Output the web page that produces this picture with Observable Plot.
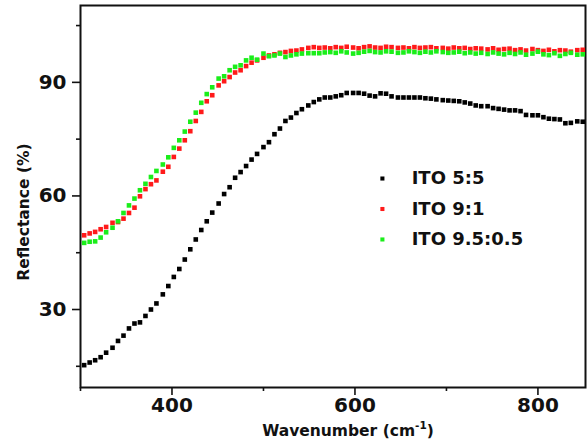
<!DOCTYPE html>
<html>
<head>
<meta charset="utf-8">
<script src="https://cdn.jsdelivr.net/npm/d3@7"></script>
<script src="https://cdn.jsdelivr.net/npm/@observablehq/plot@0.6"></script>
<style>
  html, body { margin: 0; padding: 0; background: #fff; }
  #chart { width: 587px; height: 448px; }
</style>
</head>
<body>
<div id="chart"></div>
<script>
// Wavenumber (cm-1) sampling points
const wavenumber = [304,310,316,322,328,335,341,347,353,359,
  365,371,377,383,390,396,402,408,414,420,
  426,432,438,444,451,457,463,469,475,481,
  487,493,500,506,512,518,524,530,536,542,
  549,555,561,567,573,579,585,591,598,604,
  610,616,622,628,634,640,647,653,659,665,
  671,677,683,689,696,702,708,714,720,726,
  732,738,745,751,757,763,769,775,781,787,
  794,800,806,812,818,824,830,836,843,849];

// Reflectance (%) — ITO 5:5
const ito55 = [15.3,16.0,16.6,17.4,18.6,19.9,21.7,23.1,25.0,26.3,
  26.6,28.3,30.0,31.6,34.0,36.2,38.6,40.7,43.2,45.9,
  48.5,51.0,53.3,55.6,58.0,60.5,62.3,64.8,66.3,67.9,
  69.6,71.1,72.9,74.2,76.3,77.8,79.8,80.7,81.9,82.9,
  83.9,84.8,85.5,86.0,86.0,86.3,86.6,87.2,87.2,87.2,
  87.0,86.5,86.3,87.1,87.0,86.3,86.0,86.0,86.0,86.0,
  86.0,85.8,85.7,85.5,85.3,85.2,85.1,85.0,84.7,84.4,
  83.9,83.7,83.7,83.2,83.0,82.8,82.6,82.6,82.4,81.4,
  81.3,81.3,80.8,80.4,80.3,80.2,79.2,79.3,79.7,79.6];

// Reflectance (%) — ITO 9:1
const ito91 = [49.6,50.1,50.5,51.2,51.8,52.9,53.1,54.0,55.5,56.9,
  59.9,61.8,63.1,64.1,66.4,67.7,70.3,72.5,74.7,77.1,
  79.8,82.2,85.0,86.6,89.2,
  90.3,91.4,92.6,93.2,94.3,95.2,95.8,96.5,97.1,97.4,97.8,98.0,98.3,98.4,98.7,99.1,99.3,99.1,
  99.2,99.0,99.3,99.1,99.4,99.2,99.0,99.3,99.5,99.2,
  99.1,99.4,99.3,99.1,99.2,99.0,99.3,99.1,99.2,99.3,
  99.0,99.1,98.9,99.2,99.0,99.1,98.8,99.0,98.9,98.7,
  99.0,98.6,98.8,98.9,98.5,98.7,98.4,98.8,98.5,98.3,
  98.6,98.2,98.5,98.4,98.1,98.5,98.6];

// Reflectance (%) — ITO 9.5:0.5
const ito955 = [47.6,47.9,48.0,49.0,50.4,51.6,53.3,55.5,57.5,59.3,
  61.5,63.2,65.0,66.6,68.3,70.2,72.7,74.7,77.0,79.6,
  82.0,84.6,86.9,88.7,91.0,
  91.6,93.2,94.1,94.5,95.8,96.5,96.0,97.6,96.9,97.1,97.6,96.7,97.1,97.4,97.6,97.7,97.7,97.7,97.9,
  98.0,97.8,98.2,97.9,97.6,97.8,98.1,98.3,98.0,97.9,
  98.2,98.1,97.8,97.9,98.2,98.0,97.8,98.1,97.9,98.2,
  98.0,97.8,97.9,98.1,97.7,97.9,97.6,97.8,97.5,97.9,
  97.6,97.4,97.8,97.5,97.9,97.3,97.6,98.1,97.4,97.2,
  97.7,97.0,97.5,97.8,97.3,97.4];

const seriesNames = ["ITO 5:5", "ITO 9:1", "ITO 9.5:0.5"];
const seriesColors = ["#000000", "#ff1a1a", "#1aee1a"];

const xMajorTicks = [400, 600, 800];
const xMinorTicks = [300, 500, 700];
const yMajorTicks = [30, 60, 90];
const yMinorTicks = [15, 45, 75, 105];

const allSeries = [ito55, ito91, ito955];
const rows = [];
allSeries.forEach((vals, s) => {
  vals.forEach((v, i) => rows.push({x: wavenumber[i], y: v, s: seriesNames[s]}));
});

// legend placement in data units
const legendX = 630, legendTextX = 662, legendY0 = 64.6, legendStep = 8.05;
const legendRows = seriesNames.map((n, i) => ({n, x: legendX, tx: legendTextX, y: legendY0 - legendStep * i}));

const FONT = "DejaVu Sans";

const svg = Plot.plot({
  width: 587,
  height: 448,
  marginLeft: 80,
  marginRight: 2,
  marginTop: 5,
  marginBottom: 61,
  style: {fontFamily: FONT, fontWeight: "bold", background: "#fff", color: "#111"},
  x: {domain: [300, 852]},
  y: {domain: [9.4, 110.3]},
  color: {domain: seriesNames, range: seriesColors},
  marks: [
    Plot.axisX(xMajorTicks, {tickSize: 8, tickPadding: 2, fontSize: 20, strokeWidth: 1.6, label: null, tickFormat: d => String(d)}),
    Plot.axisX(xMinorTicks, {tickSize: 4, text: null, strokeWidth: 1.6, label: null}),
    Plot.axisY(yMajorTicks, {tickSize: 8, tickPadding: 6, fontSize: 20, strokeWidth: 1.6, label: null}),
    Plot.axisY(yMinorTicks, {tickSize: 4, text: null, strokeWidth: 1.6, label: null}),
    Plot.frame({stroke: "#111", strokeWidth: 2}),
    Plot.dot(rows, {x: "x", y: "y", fill: "s", symbol: "square", r: 2.6}),
    Plot.dot(legendRows, {x: "x", y: "y", fill: "n", symbol: "square", r: 2.3}),
    Plot.text(legendRows, {x: "tx", y: "y", text: "n", textAnchor: "start", fontSize: 18, fontWeight: "bold", fill: "#111"})
  ]
});

const root = d3.select(svg);
// x-axis title with superscript
const xt = root.append("text")
  .attr("x", 348).attr("y", 436)
  .attr("text-anchor", "middle")
  .attr("font-family", FONT).attr("font-weight", "bold").attr("font-size", 15.5)
  .attr("fill", "#111");
xt.append("tspan").text("Wavenumber (cm");
xt.append("tspan").attr("dy", -7).attr("font-size", 10.5).text("-1");
xt.append("tspan").attr("dy", 7).text(")");
// y-axis title
root.append("text")
  .attr("transform", "translate(29,212) rotate(-90)")
  .attr("text-anchor", "middle")
  .attr("font-family", FONT).attr("font-weight", "bold").attr("font-size", 15.5)
  .attr("fill", "#111")
  .text("Reflectance (%)");

document.getElementById("chart").appendChild(svg);
</script>
</body>
</html>
